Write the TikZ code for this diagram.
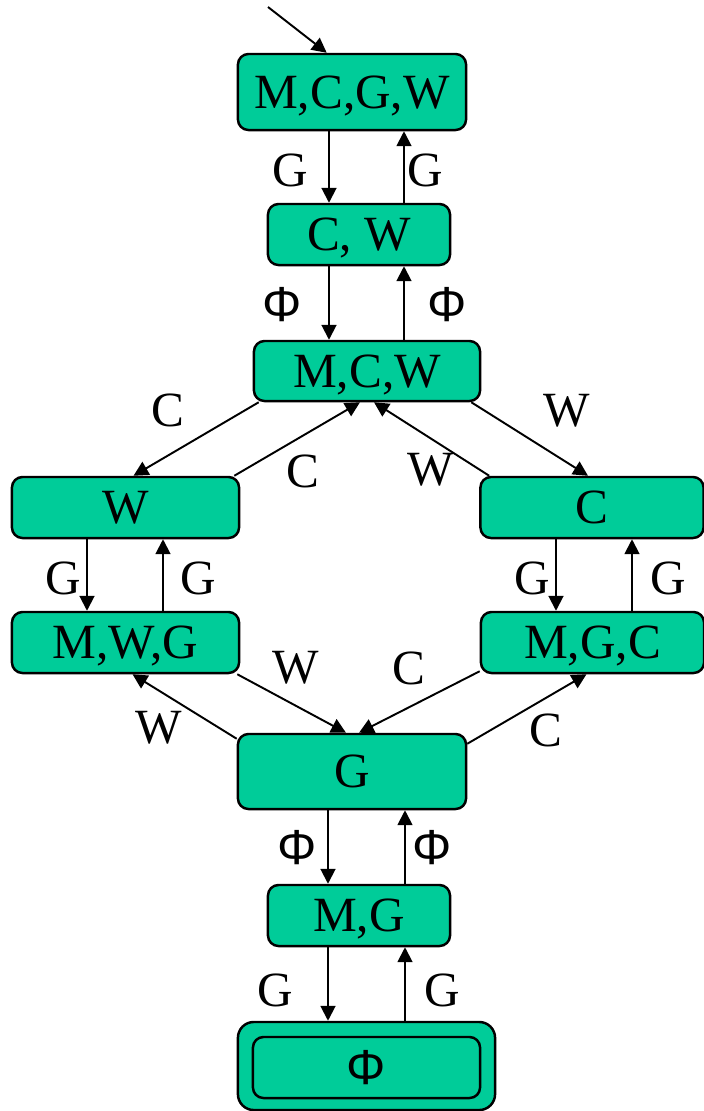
\documentclass[tikz,border=0pt]{standalone}
\usepackage{fontspec}
\setmainfont{Liberation Serif}
\newfontfamily\phifont{Liberation Sans}
\usetikzlibrary{arrows.meta,calc}
\definecolor{boxgreen}{RGB}{0,204,153}

\begin{document}
\begin{tikzpicture}[x=0.01cm, y=-0.01cm,
    state/.style={draw, line width=0.7pt, fill=boxgreen, rounded corners=3pt,
        inner sep=0pt, text depth=0pt, font=\fontsize{14}{16}\selectfont},
    lbl/.style={inner sep=0pt, font=\fontsize{14}{16}\selectfont},
    arr/.style={-{Triangle[length=4.2pt, width=4.2pt]}, line width=0.55pt}]
    \useasboundingbox (0,0) rectangle (704,1111);

    % States
    \node [state, minimum width=2.28cm, minimum height=0.76cm] (mcgw) at (352,92) {M,C,G,W};
    \node [state, minimum width=1.82cm, minimum height=0.61cm] (cw) at (359,234.5) {C, W};
    \node [state, minimum width=2.26cm, minimum height=0.60cm] (mcw) at (367,371) {M,C,W};
    \node [state, minimum width=2.27cm, minimum height=0.61cm] (w) at (125.5,507.5) {W};
    \node [state, minimum width=2.23cm, minimum height=0.61cm] (c) at (592,507.5) {C};
    \node [state, minimum width=2.27cm, minimum height=0.61cm] (mwg) at (125.5,642.5) {M,W,G};
    \node [state, minimum width=2.23cm, minimum height=0.61cm] (mgc) at (592.5,642.5) {M,G,C};
    \node [state, minimum width=2.28cm, minimum height=0.75cm] (g) at (352,771.5) {G};
    \node [state, minimum width=1.82cm, minimum height=0.61cm] (mg) at (359,915.5) {M,G};
    \node [state, rounded corners=4.5pt, minimum width=2.57cm, minimum height=0.88cm] (phiout) at (366.5,1066) {};
    \node [state, minimum width=2.27cm, minimum height=0.61cm] (phi) at (366.5,1067.5) {\phifont Φ};

    % Columns of the vertical arrows
    \coordinate (dntop) at (329,0);
    \coordinate (uptop) at (404,0);
    \coordinate (dnleft) at (87,0);
    \coordinate (upleft) at (163,0);
    \coordinate (dnright) at (556,0);
    \coordinate (upright) at (632,0);
    \coordinate (dnbot) at (328,0);
    \coordinate (upbot) at (405,0);

    % Start arrow
    \coordinate (start) at (268,7);
    \draw [arr] (start) -- ($(mcgw.north west)+(90,0)$);

    % Top chain
    \draw [arr] (mcgw.south -| dntop) -- (cw.north -| dntop);
    \draw [arr] (cw.north -| uptop) -- (mcgw.south -| uptop);
    \draw [arr] (cw.south -| dntop) -- (mcw.north -| dntop);
    \draw [arr] (mcw.north -| uptop) -- (cw.south -| uptop);
    \node [lbl] (ga) at (290,170) {G};
    \node [lbl] (gb) at (425,170) {G};
    \node [lbl] (phia) at (282,305) {\phifont Φ};
    \node [lbl] (phib) at (447,305) {\phifont Φ};

    % Upper diamond
    \draw [arr] ($(mcw.south west)+(6,0)$) -- ($(w.north)+(8,0)$);
    \draw [arr] ($(w.north east)+(-6,0)$) -- ($(mcw.south)+(-7,0)$);
    \draw [arr] ($(mcw.south east)+(-10,0)$) -- ($(c.north)+(-4,0)$);
    \draw [arr] ($(c.north west)+(10,0)$) -- ($(mcw.south)+(7,0)$);
    \node [lbl] (ca) at (168,410) {C};
    \node [lbl] (cb) at (303,471) {C};
    \node [lbl] (wa) at (567,411) {W};
    \node [lbl] (wb) at (431,470) {W};

    % Sides
    \draw [arr] (w.south -| dnleft) -- (mwg.north -| dnleft);
    \draw [arr] (mwg.north -| upleft) -- (w.south -| upleft);
    \draw [arr] (c.south -| dnright) -- (mgc.north -| dnright);
    \draw [arr] (mgc.north -| upright) -- (c.south -| upright);
    \node [lbl] (gc) at (63,578) {G};
    \node [lbl] (gd) at (198,578) {G};
    \node [lbl] (ge) at (532,578) {G};
    \node [lbl] (gf) at (668,578) {G};

    % Lower diamond
    \draw [arr] ($(mwg.south east)+(-3,0)$) -- ($(g.north)+(-6,0)$);
    \draw [arr] ($(g.north west)+(0,6)$) -- ($(mwg.south)+(7,0)$);
    \draw [arr] ($(mgc.south west)+(0,-3)$) -- ($(g.north)+(7,0)$);
    \draw [arr] ($(g.north east)+(0,11)$) -- ($(mgc.south)+(-6,0)$);
    \node [lbl] (wc) at (296,668) {W};
    \node [lbl] (wd) at (159,728) {W};
    \node [lbl] (cc) at (409,668) {C};
    \node [lbl] (cd) at (546,730) {C};

    % Bottom chain
    \draw [arr] (g.south -| dnbot) -- (mg.north -| dnbot);
    \draw [arr] (mg.north -| upbot) -- (g.south -| upbot);
    \draw [arr] (mg.south -| dnbot) -- (phiout.north -| dnbot);
    \draw [arr] (phiout.north -| upbot) -- (mg.south -| upbot);
    \node [lbl] (phic) at (297,848) {\phifont Φ};
    \node [lbl] (phid) at (432,848) {\phifont Φ};
    \node [lbl] (gg) at (275,990) {G};
    \node [lbl] (gh) at (442,990) {G};
\end{tikzpicture}
\end{document}
